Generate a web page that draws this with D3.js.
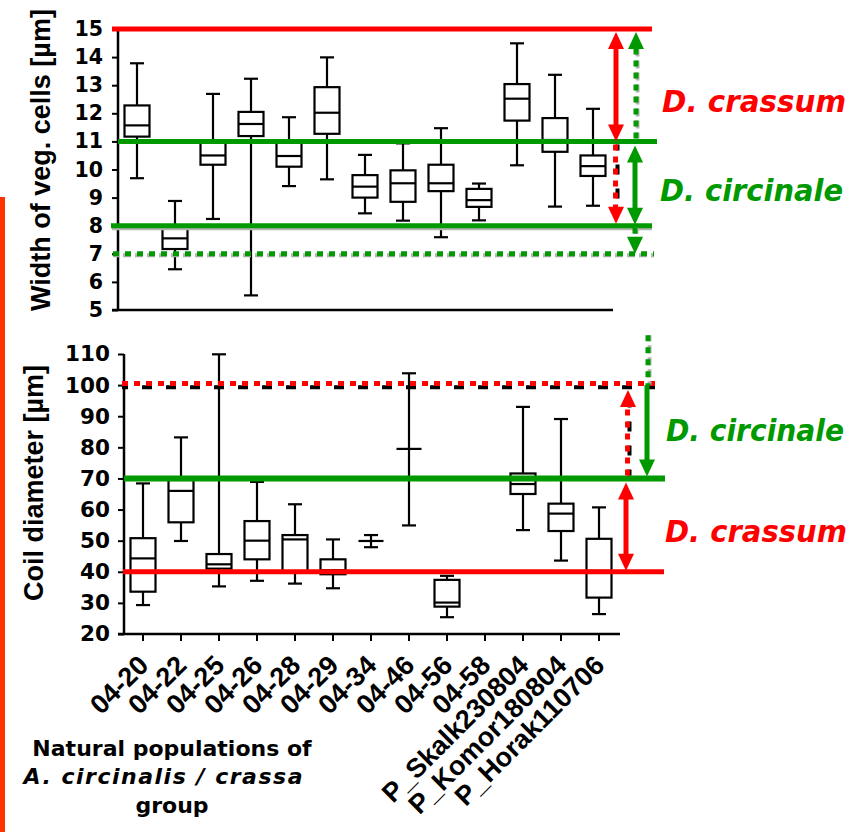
<!DOCTYPE html>
<html>
<head>
<meta charset="utf-8">
<script src="https://cdn.jsdelivr.net/npm/d3@7"></script>
<style>
body { margin: 0; background: #fff; }
svg { display: block; }
</style>
</head>
<body>
<svg width="855" height="832"></svg>
<script>
const categories = ['04-20', '04-22', '04-25', '04-26', '04-28', '04-29', '04-34',
    '04-46', '04-56', '04-58', 'P_Skalk230804', 'P_Komor180804', 'P_Horak110706'];

// width of vegetative cells [µm]
const widthMin = [9.69, 6.45, 8.24, 5.52, 9.41, 9.65, 8.44, 8.18, 7.59, 8.19, 10.15, 8.68, 8.71];
const widthQ1 = [11.17, 7.17, 10.17, 11.19, 10.10, 11.27, 9.00, 8.85, 9.23, 8.67, 11.74, 10.63, 9.77];
const widthMed = [11.57, 7.55, 10.50, 11.62, 10.48, 12.02, 9.39, 9.51, 9.51, 8.91, 12.52, 11.05, 10.12];
const widthQ3 = [12.28, 7.90, 10.98, 12.05, 10.98, 12.93, 9.80, 9.97, 10.17, 9.31, 13.04, 11.83, 10.50];
const widthMax = [13.78, 8.88, 12.69, 13.23, 11.86, 13.99, 10.52, 10.93, 11.47, 9.50, 14.49, 13.37, 12.16];

// coil diameter [µm], no data for 04-58
const coilMin = [29.3, 49.9, 35.3, 37.1, 36.2, 34.7, 47.9, 54.9, 25.4, null, 53.4, 43.6, 26.4];
const coilQ1 = [33.6, 55.9, 41.0, 44.0, 40.0, 39.2, 49.9, 79.5, 28.8, null, 65.0, 53.1, 31.7];
const coilMed = [44.3, 66.0, 42.4, 50.0, 50.4, 40.5, 49.9, 79.5, 30.1, null, 68.2, 58.7, 40.3];
const coilQ3 = [50.8, 69.5, 45.7, 56.3, 51.8, 44.0, 49.9, 79.5, 37.4, null, 71.6, 61.9, 50.6];
const coilMax = [68.4, 83.2, 109.9, 68.9, 61.7, 50.4, 51.8, 103.8, 38.7, null, 93.0, 89.1, 60.7];

const widthTicks = [5, 6, 7, 8, 9, 10, 11, 12, 13, 14, 15];
const coilTicks = [20, 30, 40, 50, 60, 70, 80, 90, 100, 110];

// species limits
const crassumWidth = [11, 15];
const circinaleWidth = [8, 11];
const circinaleWidthExt = 7;
const crassumCoil = [40, 70];
const circinaleCoil = [70, 100];

const red = '#ff0000';
const green = '#009900';
const grey = '#b4b4b4';

const svg = d3.select('svg');

const xTop = d3.scaleBand().domain(categories).range([118, 612]);
const yTop = d3.scaleLinear().domain([5, 15]).range([310, 29]);
const xBot = d3.scaleBand().domain(categories).range([124, 618]);
const yBot = d3.scaleLinear().domain([20, 110]).range([634, 354]);

const pack = (mn, q1, md, q3, mx) => categories.map((c, i) => ({
    cat: c, min: mn[i], q1: q1[i], med: md[i], q3: q3[i], max: mx[i]
}));

// orange bar on the left edge
svg.append('rect')
    .attr('x', 0).attr('y', 197)
    .attr('width', 5).attr('height', 640)
    .attr('fill', '#ff3300');

function drawBoxes(data, x, y) {
    const groups = svg.append('g')
        .selectAll('g')
        .data(data.filter((d) => d.min != null))
        .enter()
        .append('g')
        .attr('transform', (d) => `translate(${x(d.cat) + x.bandwidth() / 2},0)`);

    groups.append('line')
        .attr('y1', (d) => y(d.min))
        .attr('y2', (d) => y(d.max))
        .attr('stroke', '#000')
        .attr('stroke-width', 2.2);

    groups.selectAll('.cap')
        .data((d) => [d.min, d.max])
        .enter()
        .append('line')
        .attr('class', 'cap')
        .attr('x1', -7).attr('x2', 7)
        .attr('y1', (v) => y(v)).attr('y2', (v) => y(v))
        .attr('stroke', '#000')
        .attr('stroke-width', 2.2);

    groups.append('rect')
        .attr('x', -12.5)
        .attr('width', 25)
        .attr('y', (d) => y(d.q3))
        .attr('height', (d) => y(d.q1) - y(d.q3))
        .attr('fill', '#fff')
        .attr('stroke', '#000')
        .attr('stroke-width', 2.2);

    groups.append('line')
        .attr('x1', -12.5).attr('x2', 12.5)
        .attr('y1', (d) => y(d.med)).attr('y2', (d) => y(d.med))
        .attr('stroke', '#000')
        .attr('stroke-width', 2.2);
}

function styleAxis(g, size) {
    g.attr('font-family', 'DejaVu Sans')
        .attr('font-size', size)
        .attr('font-weight', 'bold');
    g.select('.domain').remove();
    g.selectAll('.tick line').attr('stroke', '#000').attr('stroke-width', 2);
    g.selectAll('.tick text').attr('fill', '#000');
}

// ---------- top panel ----------
drawBoxes(pack(widthMin, widthQ1, widthMed, widthQ3, widthMax), xTop, yTop);

svg.append('g')
    .attr('transform', 'translate(118,0)')
    .call(d3.axisLeft(yTop).tickValues(widthTicks).tickSize(6).tickPadding(9))
    .call((g) => styleAxis(g, 20.5));

svg.append('line')
    .attr('x1', 118).attr('x2', 118)
    .attr('y1', yTop(15)).attr('y2', yTop(5))
    .attr('stroke', '#000').attr('stroke-width', 2.5);
svg.append('line')
    .attr('x1', 112).attr('x2', xTop.range()[1] + 1)
    .attr('y1', yTop(5)).attr('y2', yTop(5))
    .attr('stroke', '#000').attr('stroke-width', 2.5);

// ---------- bottom panel ----------
drawBoxes(pack(coilMin, coilQ1, coilMed, coilQ3, coilMax), xBot, yBot);

svg.append('g')
    .attr('transform', 'translate(124,0)')
    .call(d3.axisLeft(yBot).tickValues(coilTicks).tickSize(6).tickPadding(8))
    .call((g) => styleAxis(g, 21.5));

svg.append('g')
    .attr('transform', `translate(0,${yBot(20)})`)
    .call(d3.axisBottom(xBot).tickSize(7))
    .call((g) => styleAxis(g, 27))
    .call((g) => g.selectAll('.tick text')
        .attr('font-family', 'Liberation Sans')
        .attr('text-anchor', 'end')
        .attr('y', 0).attr('dy', 0)
        .attr('transform', 'translate(7,33) rotate(-45)'));

svg.append('line')
    .attr('x1', 124).attr('x2', 124)
    .attr('y1', yBot(110)).attr('y2', yBot(20))
    .attr('stroke', '#000').attr('stroke-width', 2.5);
svg.append('line')
    .attr('x1', 118).attr('x2', xBot.range()[1] + 2)
    .attr('y1', yBot(20)).attr('y2', yBot(20))
    .attr('stroke', '#000').attr('stroke-width', 2.5);

// ---------- limit lines and arrows ----------
function seg(x1, y1, x2, y2, color, width, dash, offset) {
    svg.append('line')
        .attr('x1', x1).attr('y1', y1).attr('x2', x2).attr('y2', y2)
        .attr('stroke', color)
        .attr('stroke-width', width)
        .attr('stroke-dasharray', dash || null)
        .attr('stroke-dashoffset', offset || 0);
}

function styledLine(x1, y1, x2, y2, style) {
    const vert = x1 === x2;
    const dx = vert ? 1.5 : 0, dy = vert ? 0 : 1.5;
    if (style === 'red') seg(x1, y1, x2, y2, red, 5);
    if (style === 'green') seg(x1, y1, x2, y2, green, 5);
    if (style === 'greenDot') {
        seg(x1 + dx, y1 + dy, x2 + dx, y2 + dy, grey, 4, '8,4', 2);
        seg(x1, y1, x2, y2, green, 5, '6,6');
    }
    if (style === 'redDot') {
        seg(x1 + dx, y1 + dy * 1.5, x2 + dx, y2 + dy * 1.5, '#000', 4, '10,14', 4);
        seg(x1 - dx * 0.3, y1 - dy, x2 - dx * 0.3, y2 - dy, red, 5, '6,6');
    }
}

function head(x, yTip, dir, color) {
    // dir -1 points up, 1 points down
    const w = 8, h = 17;
    svg.append('path')
        .attr('d', `M${x},${yTip}L${x - w},${yTip - dir * h}L${x + w},${yTip - dir * h}Z`)
        .attr('fill', color);
}

function vArrow(x, yA, yB, style, heads) {
    const color = style.startsWith('red') ? red : green;
    const dir = yB > yA ? 1 : -1;
    const h = 15;
    const a = heads === 'both' ? yA + dir * h : yA;
    const b = heads ? yB - dir * h : yB;
    styledLine(x, a, x, b, style);
    if (heads === 'both') head(x, yA, -dir, color);
    if (heads) head(x, yB, dir, color);
}

// top panel
styledLine(112, yTop(15), 652, yTop(15), 'red');
styledLine(118, yTop(11), 657, yTop(11), 'green');
seg(112, yTop(8) + 2.5, 652, yTop(8) + 2.5, grey, 4);
styledLine(111, yTop(8), 652, yTop(8), 'green');
styledLine(113, yTop(circinaleWidthExt), 654, yTop(circinaleWidthExt), 'greenDot');

vArrow(616, yTop(crassumWidth[1]) + 3, yTop(crassumWidth[0]), 'red', 'both');
vArrow(616, yTop(crassumWidth[0]) + 3, yTop(circinaleWidth[0]) - 2, 'redDot', 'end');
vArrow(636, yTop(circinaleWidth[1]) - 3, yTop(crassumWidth[1]) + 3, 'greenDot', 'end');
vArrow(635, yTop(circinaleWidth[1]) + 4, yTop(circinaleWidth[0]) - 1, 'green', 'both');
vArrow(635, yTop(circinaleWidth[0]) + 2, yTop(circinaleWidthExt), 'greenDot', 'end');

// bottom panel
styledLine(122, yBot(100), 655, yBot(100), 'redDot');
seg(124, yBot(70), 665, yBot(70), green, 6);
seg(123, yBot(40), 664, yBot(40), red, 5);

vArrow(628, yBot(circinaleCoil[0]) - 3, yBot(circinaleCoil[1]) + 5, 'redDot', 'end');
vArrow(648, yBot(116), yBot(circinaleCoil[1]), 'greenDot', null);
vArrow(647, yBot(circinaleCoil[1]), yBot(circinaleCoil[0]) - 2, 'green', 'end');
vArrow(626, yBot(crassumCoil[1]) + 4, yBot(crassumCoil[0]) - 1, 'red', 'both');

// ---------- labels ----------
function species(x, y, text, color, len) {
    svg.append('text')
        .attr('x', x).attr('y', y)
        .attr('font-family', 'DejaVu Sans')
        .attr('font-weight', 'bold')
        .attr('font-style', 'italic')
        .attr('font-size', 30)
        .attr('textLength', len)
        .attr('lengthAdjust', 'spacingAndGlyphs')
        .attr('fill', color)
        .text(text);
}
species(662, 112, 'D. crassum', red, 184);
species(660, 201, 'D. circinale', green, 183);
species(666, 441, 'D. circinale', green, 178);
species(665, 542, 'D. crassum', red, 182);

svg.append('text')
    .attr('transform', 'translate(50,160) rotate(-90)')
    .attr('text-anchor', 'middle')
    .attr('font-family', 'Liberation Sans')
    .attr('font-weight', 'bold')
    .attr('font-size', 27)
    .text('Width of veg. cells [\u00b5m]');

svg.append('text')
    .attr('transform', 'translate(43,483) rotate(-90)')
    .attr('text-anchor', 'middle')
    .attr('font-family', 'Liberation Sans')
    .attr('font-weight', 'bold')
    .attr('font-size', 27)
    .text('Coil diameter [\u00b5m]');

const note = svg.append('text')
    .attr('font-family', 'DejaVu Sans')
    .attr('font-weight', 'bold')
    .attr('font-size', 22)
    .attr('text-anchor', 'middle');
note.append('tspan').attr('x', 172).attr('y', 756).text('Natural populations of');
note.append('tspan').attr('x', 163).attr('y', 784).attr('font-style', 'italic')
    .attr('textLength', 279)
    .text('A. circinalis / crassa');
note.append('tspan').attr('x', 172).attr('y', 813).text('group');
</script>
</body>
</html>
